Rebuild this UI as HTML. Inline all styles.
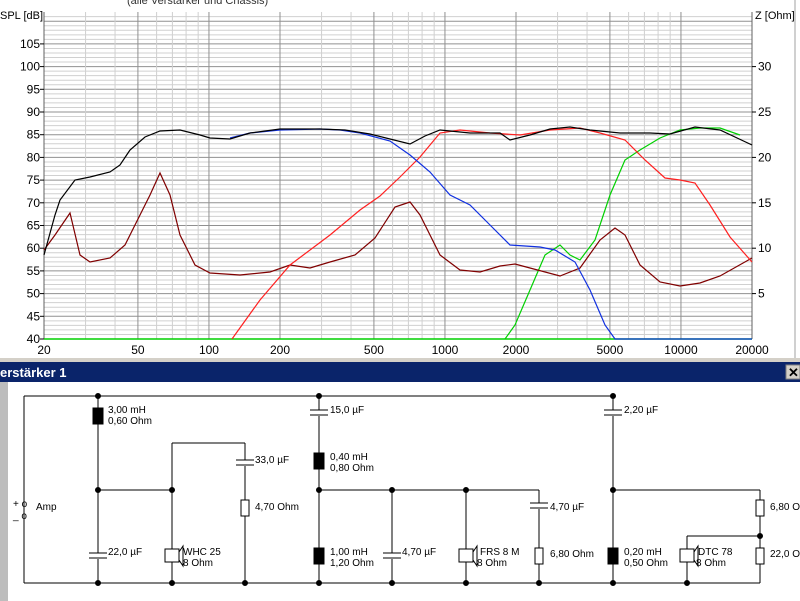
<!DOCTYPE html>
<html><head><meta charset="utf-8"><style>
html,body{margin:0;padding:0;width:800px;height:601px;overflow:hidden;background:#fff;font-family:"Liberation Sans",sans-serif;}
svg{display:block}
</style></head><body>
<svg id="s" width="800" height="601" xmlns="http://www.w3.org/2000/svg" font-family="Liberation Sans, sans-serif" font-size="11">
<rect x="0" y="0" width="800" height="601" fill="#fff"/>
<g id="grid"></g>
<text x="127" y="4" font-size="11" fill="#333">(alle Verstärker und Chassis)</text>
<text x="0" y="19" font-size="11">SPL [dB]</text>
<text x="755" y="19" font-size="11">Z [Ohm]</text>
<g id="lab" font-size="12"></g>
<g fill="none" stroke-width="1.2">
<polyline stroke="#00d000" points="505,339 515,325 530,290 545,255 560,245 570,255 580,260 595,240 610,195 625,160 640,150 660,138 680,130 700,128 720,128 740,135"/>
<polyline stroke="#800000" points="44,250 55,235 70,213 80,255 90,262 110,258 125,245 140,215 150,195 160,173 170,195 180,235 195,265 210,273 240,275 270,272 290,265 310,268 330,262 355,255 375,238 395,207 410,202 420,215 440,255 460,270 480,272 500,266 515,264 530,268 560,276 580,268 600,240 615,228 625,235 640,265 660,282 680,286 700,283 720,276 752,258"/>
<polyline stroke="#ff2020" points="232,339 260,300 290,265 330,235 360,210 380,196 400,177 420,157 440,133 460,130 490,133 520,135 550,130 580,128 600,133 625,140 645,160 665,178 680,180 695,183 710,205 730,237 752,262"/>
<polyline stroke="#1030e0" points="230,138 250,133 280,130 320,129 340,130 360,133 390,141 410,155 430,172 450,195 470,205 490,225 510,245 540,247 555,250 575,262 590,290 605,325 615,339 752,339"/>
<polyline stroke="#000" points="44,255 55,215 60,200 75,180 90,177 110,172 120,165 130,150 145,137 160,131 180,130 200,135 210,138 230,139 250,133 280,129 320,129 345,130 370,134 390,139 410,144 425,136 440,130 470,133 500,133 510,140 530,135 550,129 570,127 590,130 620,133 650,133 670,134 695,127 720,130 752,145"/>
</g>
<rect x="0" y="358" width="800" height="4" fill="#d4d0c8"/>
<rect x="0" y="362" width="800" height="20" fill="#0a246a"/>
<text x="0" y="377" fill="#fff" font-weight="bold" font-size="13">erstärker 1</text>
<rect x="786" y="365" width="14" height="14" fill="#d4d0c8" stroke="#808080"/>
<text x="788" y="377" font-size="13" font-weight="bold">✕</text>
<rect x="0" y="382" width="8" height="219" fill="#bdbdbd"/>
<g id="sch" stroke="#000" fill="none" stroke-width="1"></g>
<g id="sct" font-size="10" fill="#000"></g>
</svg>
<script>
var NS="http://www.w3.org/2000/svg";
function el(p,t,a,txt){var e=document.createElementNS(NS,t);for(var k in a)e.setAttribute(k,a[k]);if(txt!=null)e.textContent=txt;document.getElementById(p).appendChild(e);return e;}
var X=function(f){return 44+(Math.log10(f)-Math.log10(20))/3*708;};
var Y=function(d){return 339-(d-40)*4.54;};
for(var d=40;d<=111;d++){var y=Y(d);if(y<12)break;el("grid","line",{x1:44,x2:752,y1:y,y2:y,stroke:d%5==0?"#909090":"#d0d0d0","stroke-width":1});}
var dec=[10,100,1000,10000];
dec.forEach(function(b){for(var m=1;m<10;m++){var f=b*m;if(f<20||f>20000)continue;var x=X(f);el("grid","line",{x1:x,x2:x,y1:12,y2:339,stroke:(m==1||m==2||m==5)?"#909090":"#d0d0d0"});}});
el("grid","line",{x1:X(20000),x2:X(20000),y1:12,y2:339,stroke:"#909090"});
el("grid","line",{x1:44,x2:44,y1:12,y2:339,stroke:"#606060"});
el("grid","line",{x1:752,x2:752,y1:12,y2:339,stroke:"#606060"});
el("grid","line",{x1:44,x2:752,y1:339,y2:339,stroke:"#00d000","stroke-width":1.5});
el("grid","line",{x1:795,x2:795,y1:0,y2:358,stroke:"#a0a0a0"});
for(var d=40;d<=105;d+=5){el("lab","text",{x:40,y:Y(d)+4,"text-anchor":"end"},d);el("lab","line",{x1:40,x2:44,y1:Y(d),y2:Y(d),stroke:"#000"});}
for(var z=5;z<=30;z+=5){var y=Y(40+2*z);el("lab","text",{x:758,y:y+4},z);el("lab","line",{x1:752,x2:756,y1:y,y2:y,stroke:"#000"});}
[20,50,100,200,500,1000,2000,5000,10000,20000].forEach(function(f){el("lab","text",{x:X(f),y:354,"text-anchor":"middle"},f);});
function L(x1,y1,x2,y2){el("sch","line",{x1:x1,y1:y1,x2:x2,y2:y2});}
function dot(x,y){el("sch","circle",{cx:x,cy:y,r:2.5,fill:"#000"});}
function ind(x,y){el("sch","rect",{x:x-5,y:y-8,width:10,height:16,fill:"#000"});}
function res(x,y){el("sch","rect",{x:x-4,y:y-8,width:8,height:16,fill:"#fff"});}
function cap(x,y){el("sch","rect",{x:x-9,y:y-3,width:18,height:6,fill:"#fff",stroke:"none"});L(x-9,y-3,x+9,y-3);L(x-9,y+2,x+9,y+2);}
function spk(x,y){el("sch","rect",{x:x-7,y:y-7,width:14,height:13,fill:"#fff"});el("sch","polygon",{points:(x+7)+","+(y-4)+" "+(x+11)+","+(y-10)+" "+(x+11)+","+(y+10)+" "+(x+7)+","+(y+4),fill:"#fff"});}
function T(x,y,s){el("sct","text",{x:x,y:y},s);}
L(24,396,613,396);L(24,583,760,583);L(24,396,24,583);
[98,172,245,319,392,466,539,613,687].forEach(function(x){dot(x,583);});
dot(98,396);dot(319,396);dot(613,396);
L(98,396,98,583);L(319,396,319,583);L(613,396,613,583);
L(98,490,172,490);dot(98,490);dot(172,490);
L(172,443,172,583);L(172,443,245,443);L(245,443,245,583);
L(319,490,539,490);dot(319,490);dot(392,490);dot(466,490);
L(392,490,392,583);L(466,490,466,583);L(539,490,539,583);
L(613,490,760,490);dot(613,490);L(760,490,760,583);
L(687,536,760,536);dot(760,536);L(687,536,687,583);
ind(98,416);T(108,413,"3,00 mH");T(108,424,"0,60 Ohm");
cap(98,556);T(108,555,"22,0 µF");
spk(172,556);T(183,555,"WHC 25");T(183,566,"8 Ohm");
cap(245,463);T(255,463,"33,0 µF");res(245,508);T(255,510,"4,70 Ohm");
cap(319,413);T(330,413,"15,0 µF");
ind(319,461);T(330,460,"0,40 mH");T(330,471,"0,80 Ohm");
ind(319,556);T(330,555,"1,00 mH");T(330,566,"1,20 Ohm");
cap(392,556);T(402,555,"4,70 µF");
spk(466,556);T(480,555,"FRS 8 M");T(477,566,"8 Ohm");
cap(539,506);T(550,510,"4,70 µF");res(539,556);T(550,557,"6,80 Ohm");
cap(613,413);T(624,413,"2,20 µF");
ind(613,556);T(624,555,"0,20 mH");T(624,566,"0,50 Ohm");
spk(687,556);T(698,555,"DTC 78");T(696,566,"8 Ohm");
res(760,508);T(770,510,"6,80 Ohm");res(760,556);T(770,557,"22,0 Ohm");
el("sct","text",{x:13,y:507},"+ o");el("sct","text",{x:13,y:519},"_ o");T(36,510,"Amp");
</script>
</body></html>
